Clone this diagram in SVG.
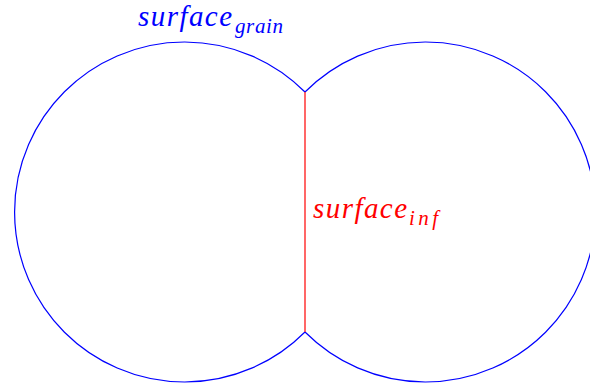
<svg xmlns="http://www.w3.org/2000/svg" width="590" height="385" viewBox="0 0 590 385">
<style>
.arc{fill:none;stroke:#0000ff;stroke-width:1.2}
.ln{stroke:#ff0000;stroke-width:1.2}
.t{font-family:"Liberation Serif","DejaVu Serif",serif;font-style:italic}
</style>
<rect width="590" height="385" fill="#fff"/>
<g id="grain-left">
<path class="arc" d="M305,92 A170,170 0 1 0 305,332"/>
</g>
<g id="grain-right">
<path class="arc" d="M305,92 A170,170 0 1 1 305,332"/>
</g>
<g id="connectors">
<line id="interface" class="ln" x1="305" y1="92" x2="305" y2="332"/>
</g>
<g id="label-grain">
<text class="t" x="138" y="26" font-size="29" fill="#0000ff" textLength="94" lengthAdjust="spacing">surface</text>
<text class="t" x="235" y="33" font-size="21" fill="#0000ff" textLength="48" lengthAdjust="spacing">grain</text>
</g>
<g id="label-inf">
<text class="t" x="313" y="218" font-size="29" fill="#ff0000" textLength="94" lengthAdjust="spacing">surface</text>
<text class="t" x="409" y="225" font-size="21" fill="#ff0000" textLength="29" lengthAdjust="spacing">inf</text>
</g>
</svg>
